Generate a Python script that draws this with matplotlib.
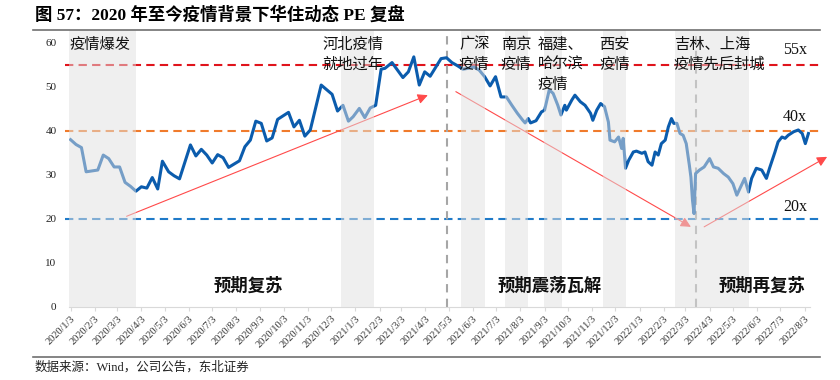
import matplotlib
matplotlib.use('Agg')
import matplotlib.pyplot as plt
import numpy as np
import pandas as pd

plt.rcParams['font.family'] = ['Liberation Serif', 'Noto Sans CJK SC', 'DejaVu Sans']

# dynamic PE of Huazhu
pe_dates = [
    '2020-01-03', '2020-01-10', '2020-01-17', '2020-01-23', '2020-02-07', '2020-02-14',
    '2020-02-21', '2020-02-28', '2020-03-06', '2020-03-13', '2020-03-20', '2020-03-27',
    '2020-04-03', '2020-04-10', '2020-04-17', '2020-04-24', '2020-04-30', '2020-05-08',
    '2020-05-15', '2020-05-22', '2020-06-05', '2020-06-12', '2020-06-19', '2020-06-26',
    '2020-07-03', '2020-07-10', '2020-07-17', '2020-07-24', '2020-08-07', '2020-08-14',
    '2020-08-21', '2020-08-28', '2020-09-04', '2020-09-11', '2020-09-18', '2020-09-25',
    '2020-10-09', '2020-10-16', '2020-10-23', '2020-10-30', '2020-11-06', '2020-11-20',
    '2020-12-04', '2020-12-11', '2020-12-18', '2020-12-25', '2020-12-31', '2021-01-08',
    '2021-01-15', '2021-01-22', '2021-01-29', '2021-02-05', '2021-02-10', '2021-02-19',
    '2021-03-05', '2021-03-12', '2021-03-19', '2021-03-26', '2021-04-02', '2021-04-09',
    '2021-04-23', '2021-04-30', '2021-05-07', '2021-05-14', '2021-05-21', '2021-05-28',
    '2021-06-04', '2021-06-11', '2021-06-18', '2021-06-25', '2021-07-02', '2021-07-09',
    '2021-07-16', '2021-07-23', '2021-07-30', '2021-08-06', '2021-08-09', '2021-08-13',
    '2021-08-16', '2021-08-23', '2021-08-30', '2021-09-03', '2021-09-09', '2021-09-14',
    '2021-09-20', '2021-09-24', '2021-09-29', '2021-10-01', '2021-10-08', '2021-10-12',
    '2021-10-19', '2021-10-25', '2021-11-01', '2021-11-04', '2021-11-09', '2021-11-14',
    '2021-11-19', '2021-11-24', '2021-11-26', '2021-12-02', '2021-12-07', '2021-12-11',
    '2021-12-13', '2021-12-16', '2021-12-20', '2021-12-26', '2021-12-30', '2022-01-06',
    '2022-01-10', '2022-01-14', '2022-01-19', '2022-01-23', '2022-01-27', '2022-01-31',
    '2022-02-05', '2022-02-09', '2022-02-13', '2022-02-16', '2022-02-20', '2022-02-24',
    '2022-02-28', '2022-03-04', '2022-03-08', '2022-03-10', '2022-03-12', '2022-03-14',
    '2022-03-16', '2022-03-21', '2022-03-27', '2022-04-03', '2022-04-08', '2022-04-14',
    '2022-04-21', '2022-04-27', '2022-05-03', '2022-05-08', '2022-05-12', '2022-05-18',
    '2022-05-23', '2022-05-27', '2022-06-02', '2022-06-09', '2022-06-15', '2022-06-19',
    '2022-06-26', '2022-06-30', '2022-07-05', '2022-07-09', '2022-07-13', '2022-07-20',
    '2022-07-26', '2022-07-31', '2022-08-04', '2022-08-08',
]
pe_values = [
    38.0, 36.9, 36.2, 30.7, 31.1, 34.5,
    33.7, 31.8, 31.8, 28.3, 27.4, 26.3,
    27.3, 27.0, 29.4, 26.8, 33.1, 30.7,
    29.8, 29.1, 36.8, 34.3, 35.8, 34.5,
    32.7, 34.6, 33.9, 31.7, 33.2, 36.4,
    37.9, 42.2, 41.7, 37.7, 38.4, 42.6,
    44.2, 40.9, 42.4, 38.8, 40.2, 50.4,
    48.3, 44.5, 45.8, 42.2, 43.2, 45.1,
    43.0, 45.2, 45.8, 54.0, 54.2, 55.5,
    52.1, 53.4, 56.8, 50.4, 53.4, 52.4,
    56.4, 56.6, 55.5, 54.8, 54.0, 54.2,
    54.5, 53.8, 52.3, 50.2, 52.3, 47.7,
    47.7, 45.8, 44.0, 42.4, 41.8, 42.8,
    41.8, 42.3, 44.3, 44.7, 49.3, 48.5,
    45.8, 43.6, 45.8, 44.7, 47.0, 48.1,
    46.6, 45.8, 44.0, 42.4, 44.7, 46.2,
    45.5, 42.0, 37.9, 37.5, 38.6, 36.0,
    38.3, 31.5, 33.3, 35.2, 35.4, 34.9,
    35.2, 33.0, 32.2, 35.2, 34.5, 37.1,
    37.9, 40.9, 42.8, 41.7, 41.7, 39.4,
    39.0, 37.1, 32.2, 29.5, 24.3, 21.2,
    30.3, 31.1, 31.8, 33.7, 31.8, 31.5,
    30.3, 29.5, 28.0, 25.4, 26.9, 29.2,
    26.1, 29.2, 31.5, 31.1, 29.2, 31.5,
    35.2, 37.5, 38.6, 38.3, 39.0, 39.8,
    40.2, 39.4, 37.1, 39.4,
]

# reference PE levels
levels = [55, 40, 20]
level_labels = ['55x', '40x', '20x']
level_colors = ['#e0141c', '#f07b2c', '#1f7ac8']

# outbreak periods (shaded) and their labels
band_starts = ['2020-01-01', '2020-12-15', '2021-05-19', '2021-07-14', '2021-09-02', '2021-11-17', '2022-02-18']
band_ends = ['2020-03-27', '2021-01-27', '2021-06-19', '2021-08-13', '2021-09-26', '2021-12-17', '2022-05-24']
event_labels = ['疫情爆发', '河北疫情\n就地过年', '广深\n疫情', '南京\n疫情', '福建、\n哈尔滨\n疫情', '西安\n疫情', '吉林、上海\n疫情先后封城']
event_x = ['2020-01-02', '2020-12-31', '2021-05-16', '2021-07-09', '2021-08-25', '2021-11-12', '2022-02-16']
event_ha = ['left', 'center', 'left', 'left', 'left', 'left', 'left']

# phase split lines and phase names
phase_splits = ['2021-04-30', '2022-03-16']
phase_names = ['预期复苏', '预期震荡瓦解', '预期再复苏']
phase_x = ['2020-08-19', '2021-09-10', '2022-06-10']

# trend arrows (start date, start PE, end date, end PE)
arrow_x0 = ['2020-03-15', '2021-05-12', '2022-03-27']
arrow_y0 = [20.6, 48.9, 18.2]
arrow_x1 = ['2021-04-06', '2022-03-10', '2022-09-01']
arrow_y1 = [48.1, 18.2, 34.1]

pe = pd.Series(pe_values, index=pd.to_datetime(pe_dates))

fig = plt.figure(figsize=(8.4, 3.8), dpi=100)
ax = fig.add_axes([69 / 840, 1 - 307 / 380, (810 - 69) / 840, 277 / 380])

ax.plot(pe.index, pe.values, color='#0b5cad', lw=2.2, zorder=3)

for (lv, col) in zip(levels, level_colors):
    ax.plot([-0.005, 1.015], [lv, lv], transform=ax.get_yaxis_transform(), color=col,
            lw=1.5, dashes=(4, 2.5), clip_on=False, zorder=2)

for (s, e) in zip(band_starts, band_ends):
    ax.axvspan(pd.Timestamp(s), pd.Timestamp(e), ymin=0, ymax=1, facecolor='#e1e1e1',
               alpha=0.5, lw=0, zorder=4)

for d in phase_splits:
    ax.axvline(pd.Timestamp(d), color='#a6a6a6', lw=1.5, dashes=(4, 3), zorder=2)

for (x0, y0, x1, y1) in zip(arrow_x0, arrow_y0, arrow_x1, arrow_y1):
    ax.annotate('', xy=(pd.Timestamp(x1), y1), xytext=(pd.Timestamp(x0), y0),
                annotation_clip=False, zorder=2,
                arrowprops=dict(arrowstyle='-|>,head_length=0.6,head_width=0.3',
                                color='#ff4a4a', lw=0.8, shrinkA=0, shrinkB=0))

for (lab, x, ha) in zip(event_labels, event_x, event_ha):
    ax.text(pd.Timestamp(x), 61.6, lab, ha=ha, va='top', fontsize=11,
            family=['Noto Sans CJK SC'], linespacing=1.25, zorder=6, color='#111111')

for (lab, lv) in zip(level_labels, [58.3, 43.2, 22.7]):
    ax.text(pd.Timestamp('2022-07-06'), lv, lab, ha='left', va='center', fontsize=11.5,
            color='#111111', zorder=6, clip_on=False)

for (lab, x) in zip(phase_names, phase_x):
    ax.text(pd.Timestamp(x), 4.8, lab, ha='center', va='center', fontsize=12.5,
            fontweight='bold', family=['Noto Sans CJK SC'], zorder=6, color='#111111')

ax.set_ylim(0, 62.9)
ax.set_yticks([0, 10, 20, 30, 40, 50, 60])
ax.set_xlim(pd.Timestamp('2020-01-01'), pd.Timestamp('2022-08-10'))
ticks = pd.date_range('2020-01-01', '2022-08-01', freq='MS') + pd.Timedelta(days=2)
ax.set_xticks(ticks)
ax.set_xticklabels([f'{t.year}/{t.month}/{t.day}' for t in ticks], rotation=45,
                   ha='right', rotation_mode='anchor', fontsize=7.5)
ax.tick_params(axis='y', length=0, pad=9, labelsize=8, labelcolor='#222222')
ax.tick_params(axis='x', length=3, color='#d9d9d9', pad=2, labelcolor='#333333')
for side in ['top', 'right', 'left']:
    ax.spines[side].set_visible(False)
ax.spines['bottom'].set_color('#d9d9d9')

fig.text(35 / 840, 1 - 15 / 380, '图 57：2020 年至今疫情背景下华住动态 PE 复盘', fontsize=12.5,
         fontweight='bold', va='center', ha='left')
fig.add_artist(plt.Line2D([33 / 840, 820 / 840], [1 - 29.5 / 380] * 2, color='#707070', lw=1.2))
fig.add_artist(plt.Line2D([33 / 840, 820 / 840], [1 - 356.5 / 380] * 2, color='#707070', lw=1.2))
fig.text(35 / 840, 1 - 367.5 / 380, '数据来源：Wind，公司公告，东北证券', fontsize=9,
         va='center', ha='left', color='#222222')

fig.savefig('out.png', dpi=100)
